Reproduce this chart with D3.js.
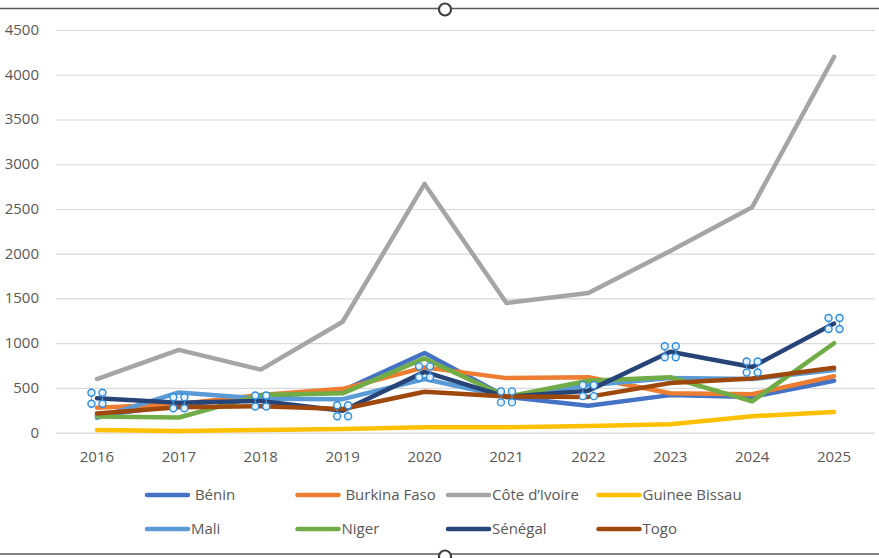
<!DOCTYPE html>
<html>
<head>
  <meta charset="utf-8">
  <title>Pays - 2016 à 2025</title>
  <style>
    body {
      margin: 0;
      background: white;
    }
    svg text {
      font-family: "Open Sans", Lato, sans-serif;
      font-size: 15px;
      fill: #595959;
    }
    .legend text {
      white-space: pre;
    }
  </style>
  <script src="https://d3js.org/d3.v7.min.js"></script>
</head>
<body>
  <div id="chart"></div>
  <script>
    // Years on the x axis
    const years = ["2016", "2017", "2018", "2019", "2020", "2021", "2022", "2023", "2024", "2025"];

    // Series names (two have a leading space in the source sheet)
    const names = [" Bénin", " Burkina Faso", "Côte d’Ivoire", "Guinee Bissau", "Mali", "Niger", "Sénégal", "Togo"];

    // Values
    const benin       = [190, 310, 400, 470, 890, 400, 300, 420, 400, 580];
    const burkina     = [280, 320, 420, 490, 730, 610, 620, 440, 430, 630];
    const coteIvoire  = [600, 925, 705, 1240, 2780, 1450, 1560, 2030, 2520, 4200];
    const guinee      = [30, 20, 30, 40, 60, 60, 75, 95, 185, 230];
    const mali        = [165, 450, 380, 375, 600, 400, 530, 610, 600, 700];
    const niger       = [180, 170, 420, 440, 830, 400, 580, 620, 350, 1000];
    const senegal     = [385, 335, 355, 245, 680, 400, 470, 905, 735, 1220];
    const togo        = [215, 285, 295, 265, 458, 405, 400, 555, 605, 725];

    const yTicks = [0, 500, 1000, 1500, 2000, 2500, 3000, 3500, 4000, 4500];

    const colors = ["#4472C4", "#ED7D31", "#A5A5A5", "#FFC000", "#5B9BD5", "#70AD47", "#264478", "#9E480E"];

    const seriesValues = [benin, burkina, coteIvoire, guinee, mali, niger, senegal, togo];
    const series = names.map((name, i) => ({
      name: name,
      color: colors[i],
      values: years.map((yr, j) => ({year: yr, value: seriesValues[i][j]}))
    }));

    const width = 879, height = 558;

    const svg = d3.select("#chart")
      .append("svg")
        .attr("width", width)
        .attr("height", height)
        .style("background-color", "white");

    // Scales
    const x = d3.scalePoint()
      .domain(years)
      .range([56, 875])
      .padding(0.5);

    const y = d3.scaleLinear()
      .domain([0, 4500])
      .range([432.7, 30]);

    // Gridlines
    svg.append("g")
      .attr("transform", "translate(56,0)")
      .call(d3.axisLeft(y).tickValues(yTicks).tickSize(-819).tickFormat(""))
      .call(g => g.select(".domain").remove())
      .call(g => g.selectAll("line").attr("stroke", "#d9d9d9").attr("stroke-width", 1.2));

    // Y labels
    svg.append("g")
      .selectAll("text")
      .data(yTicks)
      .enter().append("text")
        .attr("x", 39)
        .attr("y", d => y(d) + 5)
        .attr("text-anchor", "end")
        .text(d => d);

    // X labels
    svg.append("g")
      .selectAll("text")
      .data(years)
      .enter().append("text")
        .attr("x", d => x(d))
        .attr("y", 462)
        .attr("text-anchor", "middle")
        .text(d => d);

    // Lines
    const line = d3.line()
      .x(d => x(d.year))
      .y(d => y(d.value));

    series.forEach(s => {
      svg.append("path")
        .datum(s.values)
        .attr("fill", "none")
        .attr("stroke", s.color)
        .attr("stroke-width", 4.5)
        .attr("stroke-linejoin", "round")
        .attr("stroke-linecap", "round")
        .attr("d", line);
    });

    // Selection handles on the Sénégal series
    const sel = svg.append("g");
    series[6].values.forEach(d => {
      const cx = x(d.year), cy = y(d.value);
      [-5.5, 5.5].forEach(dx => {
        sel.append("line")
          .attr("x1", cx + dx).attr("x2", cx + dx)
          .attr("y1", cy - 5.5).attr("y2", cy + 5.5)
          .attr("stroke", "#7f9cc0")
          .attr("stroke-width", 1);
      });
      [[-5.5, -5.5], [5.5, -5.5], [-5.5, 5.5], [5.5, 5.5]].forEach(o => {
        sel.append("circle")
          .attr("cx", cx + o[0])
          .attr("cy", cy + o[1])
          .attr("r", 3.5)
          .attr("fill", "#e3f1fc")
          .attr("stroke", "#2b8ce0")
          .attr("stroke-width", 1.4);
      });
    });

    // Legend
    const legend = svg.selectAll(".legend")
      .data(series)
      .enter().append("g")
        .attr("class", "legend")
        .attr("transform", (d, i) => `translate(${147 + (i % 4) * 150.5},${i < 4 ? 495 : 529})`);

    legend.append("line")
      .attr("x1", 0)
      .attr("x2", 41)
      .attr("stroke", d => d.color)
      .attr("stroke-width", 4.5)
      .attr("stroke-linecap", "round");

    legend.append("text")
      .attr("x", 44)
      .attr("y", 5)
      .text(d => d.name);

    // Frame lines with resize handles
    svg.append("line")
      .attr("x1", 0).attr("x2", width)
      .attr("y1", 8.5).attr("y2", 8.5)
      .attr("stroke", "#595959")
      .attr("stroke-width", 1.5);

    svg.append("line")
      .attr("x1", 0).attr("x2", width)
      .attr("y1", 554).attr("y2", 554)
      .attr("stroke", "#595959")
      .attr("stroke-width", 1.5);

    svg.append("circle")
      .attr("cx", 445).attr("cy", 9.5).attr("r", 6)
      .attr("fill", "white")
      .attr("stroke", "#404040")
      .attr("stroke-width", 2.2);

    svg.append("circle")
      .attr("cx", 445).attr("cy", 556.5).attr("r", 6)
      .attr("fill", "white")
      .attr("stroke", "#404040")
      .attr("stroke-width", 2.2);
  </script>
</body>
</html>
